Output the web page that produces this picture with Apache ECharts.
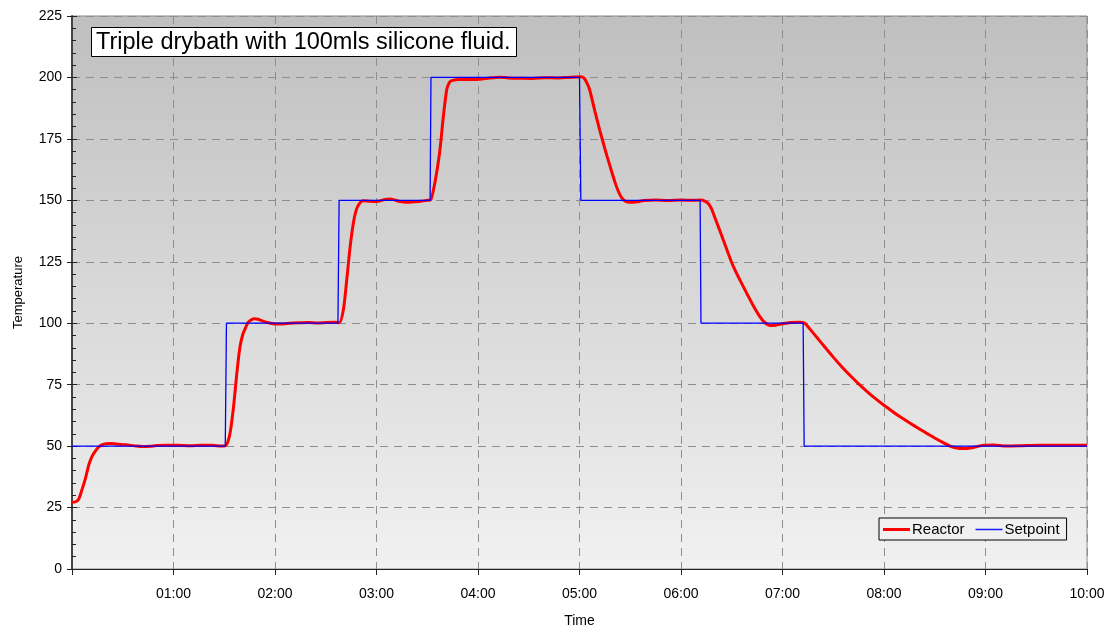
<!DOCTYPE html>
<html>
<head>
<meta charset="utf-8">
<script src="https://cdn.jsdelivr.net/npm/echarts@6/dist/echarts.min.js"></script>
<style>
html,body{margin:0;padding:0;background:#fff;}
#chart{width:1108px;height:629px;}
</style>
</head>
<body>
<div id="chart"></div>
<script>
const chartTitle = 'Triple drybath with 100mls silicone fluid.';
const xAxisName = 'Time';
const yAxisName = 'Temperature';
const seriesNames = ['Reactor', 'Setpoint'];

// time in minutes
const reactorTime = [0,2,4,6,8,10,12,14,16,18,20,23,26,30,34,38,42,46,50,56,62,70,76,83,88,90.5,92,93.5,95.5,97.5,99.3,101,102.5,104,106,108,110,112,115,118,121,126,131,135,140,145,150,155,158,160.4,162.4,164.4,166.3,168,169.5,172,176,180,185,188,190,194,198,202,206,210,212,213.6,215.5,217.5,219.5,221.5,223,224.5,229,235,241,247,253,258,265,272,280,287,293,298,301,302.5,304,306,309,312,315,318,321,323,325,327,330,334,338,345,352,360,366,372,374,376,378,380,382.5,385,388,391,395,399,403,406.5,409.5,413,416,420,425,430,433,436,440,445,450,455,460,465,470,475,480,485,490,495,500,505,510,515,519,523,527,531,535,539,545,552,560,572,585,600];
const reactorTemp = [27.2,27.3,28.5,32.5,37,42.5,46,48.2,49.8,50.6,51,51.1,50.9,50.6,50.4,50,49.8,49.9,50.2,50.4,50.4,50.1,50.3,50.3,50,50.1,51.5,55.5,66,80,90.4,95.5,98,100.2,101.4,101.8,101.6,101.1,100.4,99.9,99.7,99.8,100.1,100.2,100.3,100.1,100.3,100.4,100.2,105.4,117.6,131,140.7,146,148.3,149.8,149.6,149.5,150.3,150.5,150.3,149.5,149.2,149.4,149.6,150,150.2,154,161,170.5,184,195,197.8,198.7,199.2,199.2,199.3,199.8,200.1,199.8,199.7,199.6,199.9,199.8,200,200.2,200.3,199.8,198.3,195,186.5,178.5,171,164,157.3,153.6,151,149.7,149.2,149.4,149.9,150.1,149.9,150.1,150,150.1,149.7,148.8,146.6,143,138.5,133.9,128.3,123,117.3,112,106.8,102.8,100.3,99.1,99.2,99.8,100.3,100.4,100.1,97.8,94.5,90.3,86.2,82.3,78.7,75.3,72.2,69.3,66.6,64.1,61.7,59.5,57.4,55.3,53.3,51.4,50,49.2,49,49.2,49.8,50.4,50.5,50,50.1,50.4,50.3,50.4];

const setpointTime = [0,90.6,91.3,157.2,157.9,211.7,212.2,300,300.8,371.3,371.8,432.2,432.8,600];
const setpointTemp = [50,50,100,100,150,150,200,200,150,150,100,100,50,50];

const yTicks = [0,25,50,75,100,125,150,175,200,225];
const xTickMinutes = [0,60,120,180,240,300,360,420,480,540,600];

const zip = (a,b) => a.map((v,i)=>[v,b[i]]);
const fmtTime = v => {
  if (v === 0) return '';
  const h = Math.floor(v/60), m = Math.round(v%60);
  return String(h).padStart(2,'0') + ':' + String(m).padStart(2,'0');
};

const FONT = 'Liberation Sans';
const chart = echarts.init(document.getElementById('chart'));
chart.setOption({
  animation: false,
  textStyle: {fontFamily: FONT},
  title: {
    text: chartTitle,
    left: 91, top: 27,
    padding: [4, 6, 2, 5],
    backgroundColor: '#ffffff',
    borderColor: '#000000',
    borderWidth: 1,
    textStyle: {fontFamily: FONT, fontSize: 23.5, fontWeight: 'normal', color: '#000', lineHeight: 24}
  },
  legend: {
    left: 879, top: 518,
    orient: 'horizontal',
    padding: [4, 7, 3, 4],
    itemGap: 11,
    itemWidth: 27, itemHeight: 3,
    borderColor: '#000', borderWidth: 1,
    backgroundColor: '#f0f0f0',
    textStyle: {fontFamily: FONT, fontSize: 15, color: '#000', padding: [0,0,0,-3]},
    data: [
      {name: seriesNames[0], icon: 'rect', itemStyle: {color: '#ff0000', borderWidth: 0}},
      {name: seriesNames[1], icon: 'path://M0,0L0,0ZM0,0.8h27v1.5h-27ZM0,3L0,3Z', itemStyle: {color: '#1a1aff', borderWidth: 0}}
    ]
  },
  grid: {
    left: 72, right: 21, top: 16, bottom: 60,
    outerBoundsMode: 'none',
    containLabel: false,
    show: true,
    borderColor: '#8a8a8a', borderWidth: 1,
    backgroundColor: new echarts.graphic.LinearGradient(0,0,0,1,[
      {offset: 0, color: '#bfbfbf'},
      {offset: 1, color: '#f1f1f1'}
    ])
  },
  xAxis: {
    type: 'value',
    min: xTickMinutes[0], max: xTickMinutes[xTickMinutes.length-1], interval: 60,
    name: xAxisName, nameLocation: 'middle', nameGap: 45,
    nameTextStyle: {fontFamily: FONT, fontSize: 14, color: '#000'},
    axisLine: {show: true, lineStyle: {color: '#222', width: 1}},
    axisTick: {show: true, length: 6, lineStyle: {color: '#222'}},
    axisLabel: {formatter: fmtTime, fontFamily: FONT, fontSize: 14, color: '#000', margin: 18},
    splitLine: {show: true, lineStyle: {color: '#8e8e8e', type: [8, 6], width: 1}}
  },
  yAxis: [{
    type: 'value',
    min: yTicks[0], max: yTicks[yTicks.length-1], interval: 25,
    name: yAxisName, nameLocation: 'middle', nameGap: 47,
    nameTextStyle: {fontFamily: FONT, fontSize: 13, color: '#000'},
    axisLine: {show: true, lineStyle: {color: '#444', width: 2}},
    axisTick: {show: true, inside: true, length: 5, lineStyle: {color: '#222'}},
    minorTick: {show: true, splitNumber: 5, length: 4, lineStyle: {color: '#222'}},
    axisLabel: {fontFamily: FONT, fontSize: 14, color: '#000', margin: 10},
    splitLine: {show: true, lineStyle: {color: '#8e8e8e', type: [8, 6], width: 1}}
  }, {
    type: 'value', position: 'left',
    min: yTicks[0], max: yTicks[yTicks.length-1], interval: 25,
    axisLine: {show: false},
    axisTick: {show: true, inside: false, length: 5, lineStyle: {color: '#222'}},
    axisLabel: {show: false},
    splitLine: {show: false}
  }],
  series: [{
    name: seriesNames[0],
    type: 'line',
    data: zip(reactorTime, reactorTemp),
    showSymbol: false, symbol: 'none',
    smooth: 0.25,
    lineStyle: {color: '#ff0000', width: 3},
    itemStyle: {color: '#ff0000'},
    z: 3
  }, {
    name: seriesNames[1],
    type: 'line',
    data: zip(setpointTime, setpointTemp),
    showSymbol: false, symbol: 'none',
    lineStyle: {color: '#0000ff', width: 1.3},
    itemStyle: {color: '#0000ff'},
    z: 4
  }]
});
</script>
</body>
</html>
